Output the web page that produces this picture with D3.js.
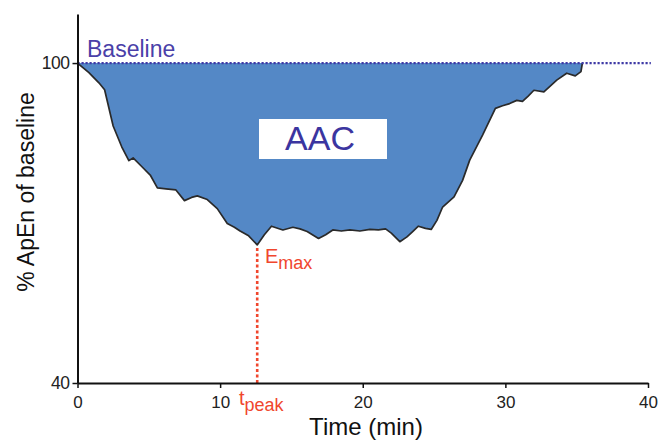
<!DOCTYPE html>
<html>
<head>
<meta charset="utf-8">
<script src="https://cdn.jsdelivr.net/npm/d3@7"></script>
<style>
  body { margin: 0; background: #fff; }
  svg { display: block; font-family: Arial, "Liberation Sans", sans-serif; }
</style>
</head>
<body>
<svg id="chart" width="659" height="441"></svg>
<script>
// ApEn time course (% of baseline)
const times = [0, 0.8, 1.5, 1.9, 2.5, 3.1, 3.6, 3.9, 4.5, 5.1, 5.6, 6.2, 6.9, 7.5, 8.0, 8.4, 9.1, 9.8,
  10.5, 11.0, 11.4, 12.0, 12.6, 13.1, 13.6, 14.4, 15.1, 15.6, 16.1, 16.9, 17.4, 17.9, 18.5, 19.1, 19.8,
  20.5, 21.1, 21.6, 22.0, 22.6, 23.1, 23.5, 23.9, 24.4, 24.8, 25.2, 25.6, 26.4, 27.0, 27.5, 28.4, 29.3,
  29.8, 30.3, 30.8, 31.2, 31.6, 32.0, 32.7, 33.2, 33.6, 34.3, 34.9, 35.3, 35.4];
const values = [100, 98.2, 96.3, 95, 88.2, 84.3, 81.7, 82.2, 80.6, 79, 76.6, 76.4, 76.2, 74.2, 74.8, 75.1, 74.4, 72.7,
  69.9, 69.2, 68.5, 67.6, 65.9, 67.8, 69.4, 68.7, 69.2, 68.9, 68.4, 67.1, 67.8, 68.7, 68.5, 68.7, 68.5,
  68.8, 68.7, 68.9, 68.1, 66.5, 67.4, 68.4, 69.4, 69.0, 68.8, 70.5, 73, 74.9, 78.0, 81.8, 86.5, 91.5,
  92.0, 92.4, 93, 92.8, 93.8, 94.9, 94.6, 95.8, 96.8, 98.1, 97.6, 98.4, 100];

const xTicks = [0, 10, 20, 30, 40];
const yTicks = [40, 100];
const baselineValue = 100;
const tPeak = 12.6;
const eMax = 65.9;

const data = times.map((t, i) => ({ t: t, v: values[i] }));

const svg = d3.select('#chart');

// scales
const x = d3.scaleLinear().domain([0, 40]).range([77.5, 648]);
const y = d3.scaleLinear().domain([40, 109.2]).range([383, 14]);

// filled area between baseline and curve
const area = d3.area()
  .x(d => x(d.t))
  .y0(y(baselineValue))
  .y1(d => y(d.v));

svg.append('path')
  .datum(data)
  .attr('d', area)
  .attr('fill', '#5488c6');

// curve outline
const line = d3.line()
  .x(d => x(d.t))
  .y(d => y(d.v));

svg.append('path')
  .datum(data)
  .attr('d', line)
  .attr('fill', 'none')
  .attr('stroke', '#2a2a2a')
  .attr('stroke-width', 1.7)
  .attr('stroke-linejoin', 'round');

// dotted baseline
svg.append('line')
  .attr('x1', x(0)).attr('x2', x(40.2))
  .attr('y1', y(baselineValue)).attr('y2', y(baselineValue))
  .attr('stroke', '#3f3aa6')
  .attr('stroke-width', 2.2)
  .attr('stroke-dasharray', '2.2,1.8');

svg.append('text')
  .attr('x', 87).attr('y', 57)
  .attr('font-size', 23)
  .attr('fill', '#4a40a8')
  .text('Baseline');

// tpeak dotted line
svg.append('line')
  .attr('x1', x(tPeak)).attr('x2', x(tPeak))
  .attr('y1', y(eMax) + 3).attr('y2', y(40))
  .attr('stroke', '#f0462d')
  .attr('stroke-width', 2.6)
  .attr('stroke-dasharray', '3,2.5');

// AAC box
svg.append('rect')
  .attr('x', 259).attr('y', 119)
  .attr('width', 128).attr('height', 40)
  .attr('fill', '#fff');

svg.append('text')
  .attr('x', 320).attr('y', 149.5)
  .attr('text-anchor', 'middle')
  .attr('font-size', 34)
  .attr('fill', '#3b35a0')
  .text('AAC');

// axes
const xAxis = svg.append('g')
  .attr('transform', `translate(0,${y(40)})`)
  .call(d3.axisBottom(x).tickValues(xTicks).tickSize(5).tickSizeOuter(0).tickPadding(8));

const yAxis = svg.append('g')
  .attr('transform', `translate(${x(0)},0)`)
  .call(d3.axisLeft(y).tickValues(yTicks).tickSize(5).tickSizeOuter(0).tickPadding(3));

[xAxis, yAxis].forEach(g => {
  g.select('.domain').attr('stroke', '#111').attr('stroke-width', 2);
  g.selectAll('.tick line').attr('stroke', '#111').attr('stroke-width', 1.5);
  g.selectAll('.tick text')
    .attr('fill', '#222')
    .attr('font-family', 'Arial, "Liberation Sans", sans-serif');
});
xAxis.selectAll('.tick text').attr('font-size', 17);
yAxis.selectAll('.tick text').attr('font-size', 17.5).attr('letter-spacing', -0.5);

// Emax label
const emaxLabel = svg.append('text')
  .attr('x', 265).attr('y', 263)
  .attr('fill', '#f0462d')
  .attr('font-size', 20);
emaxLabel.append('tspan').text('E');
emaxLabel.append('tspan').attr('dy', 6).attr('font-size', 18).text('max');

// tpeak label
const tpeakLabel = svg.append('text')
  .attr('x', 239).attr('y', 405)
  .attr('fill', '#f0462d')
  .attr('font-size', 20);
tpeakLabel.append('tspan').text('t');
tpeakLabel.append('tspan').attr('dy', 6).attr('font-size', 18).text('peak');

// axis titles
svg.append('text')
  .attr('x', 366).attr('y', 435)
  .attr('text-anchor', 'middle')
  .attr('font-size', 24)
  .attr('fill', '#111')
  .text('Time (min)');

svg.append('text')
  .attr('transform', 'translate(34,192) rotate(-90)')
  .attr('text-anchor', 'middle')
  .attr('font-size', 23)
  .attr('fill', '#111')
  .text('% ApEn of baseline');
</script>
</body>
</html>
